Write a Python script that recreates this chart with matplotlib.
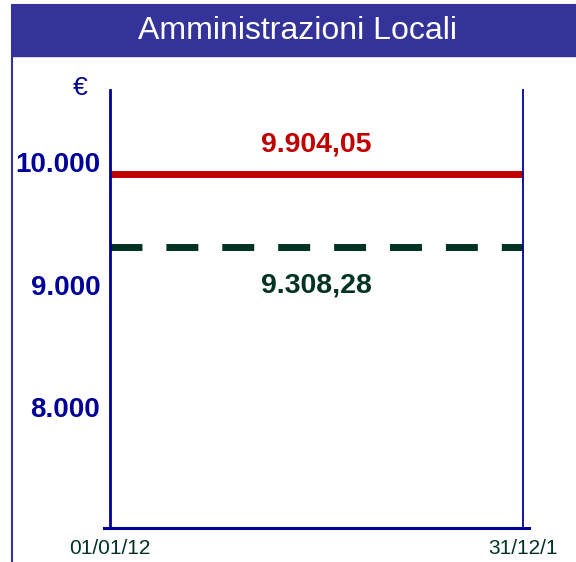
import matplotlib.pyplot as plt
from matplotlib.patches import Rectangle

# Chart data
title = 'Amministrazioni Locali'
dates = ['01/01/12', '31/12/1']
y_ticks = [8000, 9000, 10000]
y_tick_labels = ['8.000', '9.000', '10.000']
series_values = [9904.05, 9308.28]
series_labels = ['9.904,05', '9.308,28']

# Colors
frame_blue = '#333399'
axis_blue = '#000099'
red = '#C00000'
dark_green = '#003322'

W, H = 576, 562


def fx(px):
    return px / W


def fy(py):
    return 1 - py / H


def draw_chart():
    fig = plt.figure(figsize=(W / 100, H / 100), dpi=100)
    fig.patch.set_facecolor('white')
    font = 'Liberation Sans'

    # Outer frame and title bar
    fig.patches.append(Rectangle((fx(12), fy(700)), fx(700), fy(5) - fy(700),
                                 transform=fig.transFigure, fill=False,
                                 edgecolor=frame_blue, lw=1.5))
    fig.patches.append(Rectangle((fx(12), fy(56)), fx(600), fy(5) - fy(56),
                                 transform=fig.transFigure, facecolor=frame_blue,
                                 edgecolor=frame_blue, lw=1))
    fig.text(fx(298), fy(31), title, color='white', fontsize=23, family=font,
             ha='center', va='center')

    # Main axes
    ax = fig.add_axes([fx(110), fy(528), fx(523) - fx(110), fy(90) - fy(528)])
    ax.set_xlim(0, 1)
    ax.set_ylim(7012, 10588)

    x = [0, 1]
    ax.plot(x, [series_values[0]] * 2, color=red, lw=5, solid_capstyle='butt')
    ax.plot(x, [series_values[1]] * 2, color=dark_green, lw=5,
            dashes=(4.6, 3.45), dash_capstyle='butt')

    # Value labels
    ax.annotate(series_labels[0], (0.5, series_values[0]), xytext=(0, 21),
                textcoords='offset points', ha='center', va='center',
                color=red, fontsize=20.5, fontweight='bold', family=font)
    ax.annotate(series_labels[1], (0.5, series_values[1]), xytext=(0, -28),
                textcoords='offset points', ha='center', va='center',
                color=dark_green, fontsize=20.5, fontweight='bold', family=font)

    # Spines
    for side in ['top', 'bottom']:
        ax.spines[side].set_visible(False)
    ax.spines['left'].set_color(axis_blue)
    ax.spines['left'].set_linewidth(2)
    ax.spines['right'].set_color(axis_blue)
    ax.spines['right'].set_linewidth(1.3)
    ax.plot([-0.015, 1.015], [0, 0], transform=ax.transAxes, clip_on=False,
            color=axis_blue, lw=2.2)

    # Ticks
    ax.set_yticks(y_ticks, y_tick_labels)
    ax.set_xticks(x, dates)
    ax.tick_params(axis='y', length=0, pad=7, labelsize=20, labelcolor=axis_blue)
    ax.tick_params(axis='x', length=0, pad=8, labelsize=15, labelcolor=dark_green)
    for lab in ax.get_yticklabels():
        lab.set_fontweight('bold')
        lab.set_family(font)
    for lab in ax.get_xticklabels():
        lab.set_family(font)

    fig.text(fx(80), fy(88), '€', color=axis_blue, fontsize=19, family=font,
             ha='center', va='center')

    fig.savefig('out.png', dpi=100)


draw_chart()
